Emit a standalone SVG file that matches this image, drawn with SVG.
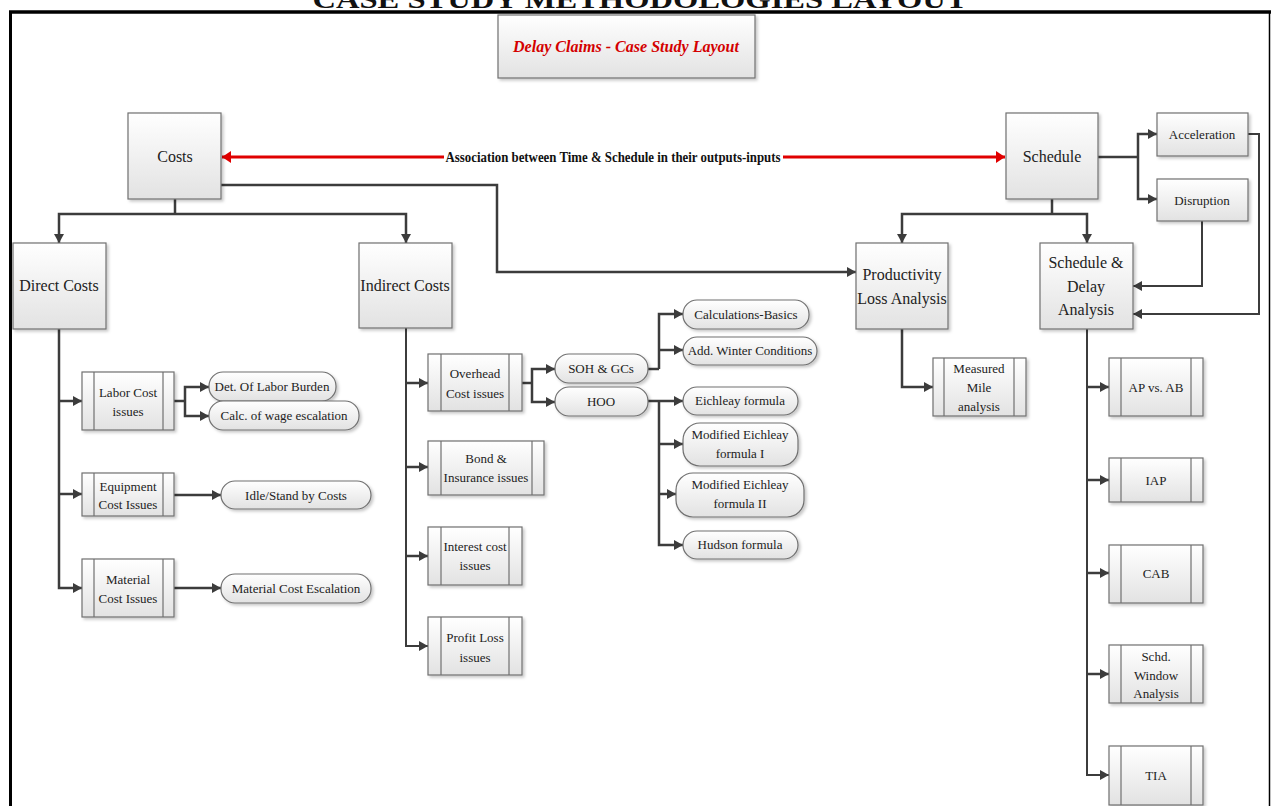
<svg xmlns="http://www.w3.org/2000/svg" width="1271" height="806" viewBox="0 0 1271 806">
<defs>
<linearGradient id="g" x1="0" y1="0" x2="0" y2="1"><stop offset="0" stop-color="#ffffff"/><stop offset="1" stop-color="#e2e2e2"/></linearGradient>
<filter id="sh" x="-10%" y="-10%" width="130%" height="130%"><feDropShadow dx="2" dy="2" stdDeviation="1.5" flood-color="#000" flood-opacity="0.22"/></filter>
<marker id="a" markerUnits="userSpaceOnUse" markerWidth="10" markerHeight="10" refX="9" refY="5" orient="auto"><path d="M0,0 L9,5 L0,10 z" fill="#3c3c3c"/></marker>
<marker id="r" markerUnits="userSpaceOnUse" markerWidth="10" markerHeight="12" refX="9" refY="6" orient="auto-start-reverse"><path d="M0,0 L9,6 L0,12 z" fill="#e00000"/></marker>
<style>
.box{fill:url(#g);stroke:#707070;stroke-width:1.2;filter:url(#sh)}
.in{stroke:#707070;stroke-width:1.2}
.t{font-family:'Liberation Serif',serif;fill:#222;text-anchor:middle}
.t16{font-size:16px}
.t13{font-size:13px}
.c{fill:none;stroke:#3c3c3c;stroke-width:2.5;marker-end:url(#a)}
.cl{fill:none;stroke:#3c3c3c;stroke-width:2.5}
.thin{stroke-width:2}
</style>
</defs>
<rect x="0" y="0" width="1271" height="806" fill="#ffffff"/>
<text x="640" y="8" font-family="Liberation Serif,serif" font-weight="bold" font-size="26" text-anchor="middle" textLength="655" lengthAdjust="spacingAndGlyphs" fill="#111">CASE STUDY METHODOLOGIES LAYOUT</text>
<g id="frame" fill="none" stroke="#000">
<line x1="9" y1="12" x2="1271" y2="12" stroke-width="3.5"/>
<line x1="10.5" y1="11" x2="10.5" y2="806" stroke-width="3"/>
<line x1="1269.5" y1="12" x2="1269.5" y2="806" stroke-width="1.5"/>
</g>

<g id="connectors">
<line x1="222" y1="157" x2="1005" y2="157" stroke="#e00000" stroke-width="3" marker-start="url(#r)" marker-end="url(#r)"/>
<rect x="444" y="148" width="339" height="18" fill="#ffffff"/>
<text x="613" y="161.5" font-family="Liberation Serif,serif" font-weight="bold" font-size="14" text-anchor="middle" textLength="335" lengthAdjust="spacingAndGlyphs" fill="#111">Association between Time &amp; Schedule in their outputs-inputs</text>

<path class="cl" d="M175,199 V214"/>
<path class="c" d="M175,214 H59 V243"/>
<path class="c" d="M175,214 H406 V243"/>
<path class="c" d="M221,185 H497 V272 H856"/>

<path class="cl" d="M1052,199 V214"/>
<path class="c" d="M1052,214 H902 V243"/>
<path class="c" d="M1052,214 H1087 V243"/>
<path class="cl" d="M1098,157 H1138"/>
<path class="c" d="M1138,157 V134 H1157"/>
<path class="c" d="M1138,157 V199 H1157"/>
<path class="c thin" d="M1248,134 H1259 V314 H1133"/>
<path class="c thin" d="M1202,221 V286 H1133"/>

<path class="c" d="M59,329 V588 H82"/>
<path class="c" d="M59,401 H82"/>
<path class="c" d="M59,494 H82"/>
<path class="cl" d="M174,401 H185"/>
<path class="c" d="M185,401 V387 H209"/>
<path class="c" d="M185,401 V416 H209"/>
<path class="c" d="M174,495 H221"/>
<path class="c" d="M174,588 H221"/>

<path class="c thin" d="M406,328 V646 H428"/>
<path class="c" d="M406,383 H428"/>
<path class="c" d="M406,467 H428"/>
<path class="c" d="M406,556 H428"/>
<path class="cl" d="M522,383 H532"/>
<path class="c" d="M532,383 V369 H555"/>
<path class="c" d="M532,383 V402 H555"/>
<path class="cl" d="M648,369 H659"/>
<path class="c" d="M659,369 V314 H683"/>
<path class="c" d="M659,350 H683"/>
<path class="c" d="M648,401 H683"/>
<path class="c" d="M659,401 V545 H683"/>
<path class="c" d="M659,444 H683"/>
<path class="c" d="M659,494 H676"/>

<path class="c" d="M902,329 V387 H933"/>
<path class="c thin" d="M1087,329 V775 H1109"/>
<path class="c" d="M1087,387 H1109"/>
<path class="c" d="M1087,480 H1109"/>
<path class="c" d="M1087,573 H1109"/>
<path class="c" d="M1087,674 H1109"/>
</g>

<g id="title-node"><rect class="box" x="498" y="15" width="257" height="63"/>
<text x="626" y="52" font-family="Liberation Serif,serif" font-weight="bold" font-style="italic" font-size="17" text-anchor="middle" textLength="226" lengthAdjust="spacingAndGlyphs" fill="#d40000">Delay Claims - Case Study Layout</text></g>

<g id="costs"><rect class="box" x="128" y="113" width="93" height="86"/><text class="t t16" x="175" y="162">Costs</text></g>
<g id="schedule"><rect class="box" x="1006" y="113" width="92" height="86"/><text class="t t16" x="1052" y="162">Schedule</text></g>
<g id="direct"><rect class="box" x="13" y="243" width="93" height="86"/><text class="t t16" x="59" y="291">Direct Costs</text></g>
<g id="indirect"><rect class="box" x="359" y="243" width="93" height="85"/><text class="t t16" x="405" y="291">Indirect Costs</text></g>
<g id="productivity"><rect class="box" x="856" y="243" width="92" height="86"/><text class="t t16" x="902" y="280">Productivity</text><text class="t t16" x="902" y="304">Loss Analysis</text></g>
<g id="sda"><rect class="box" x="1040" y="243" width="93" height="86"/><text class="t t16" x="1086" y="268">Schedule &amp;</text><text class="t t16" x="1086" y="292">Delay</text><text class="t t16" x="1086" y="315">Analysis</text></g>
<g id="acceleration"><rect class="box" x="1157" y="113" width="91" height="43"/><text class="t t13" x="1202" y="139">Acceleration</text></g>
<g id="disruption"><rect class="box" x="1157" y="179" width="91" height="42"/><text class="t t13" x="1202" y="205">Disruption</text></g>

<g id="labor"><rect class="box" x="82" y="372" width="92" height="58"/><line class="in" x1="94" y1="372" x2="94" y2="430"/><line class="in" x1="163" y1="372" x2="163" y2="430"/><text class="t t13" x="128" y="397">Labor Cost</text><text class="t t13" x="128" y="416">issues</text></g>
<g id="equipment"><rect class="box" x="82" y="473" width="92" height="43"/><line class="in" x1="94" y1="473" x2="94" y2="516"/><line class="in" x1="163" y1="473" x2="163" y2="516"/><text class="t t13" x="128" y="491">Equipment</text><text class="t t13" x="128" y="509">Cost Issues</text></g>
<g id="material"><rect class="box" x="82" y="559" width="92" height="58"/><line class="in" x1="94" y1="559" x2="94" y2="617"/><line class="in" x1="163" y1="559" x2="163" y2="617"/><text class="t t13" x="128" y="584">Material</text><text class="t t13" x="128" y="603">Cost Issues</text></g>

<g id="det"><rect class="box" x="209" y="372" width="127" height="29" rx="14"/><text class="t t13" x="272" y="391">Det. Of Labor Burden</text></g>
<g id="calc"><rect class="box" x="209" y="401" width="150" height="29" rx="14"/><text class="t t13" x="284" y="420">Calc. of wage escalation</text></g>
<g id="idle"><rect class="box" x="221" y="481" width="150" height="28" rx="14"/><text class="t t13" x="296" y="500">Idle/Stand by Costs</text></g>
<g id="matesc"><rect class="box" x="221" y="574" width="150" height="29" rx="14"/><text class="t t13" x="296" y="593">Material Cost Escalation</text></g>

<g id="overhead"><rect class="box" x="428" y="354" width="94" height="57"/><line class="in" x1="441" y1="354" x2="441" y2="411"/><line class="in" x1="509" y1="354" x2="509" y2="411"/><text class="t t13" x="475" y="378">Overhead</text><text class="t t13" x="475" y="398">Cost issues</text></g>
<g id="bond"><rect class="box" x="428" y="441" width="116" height="54"/><line class="in" x1="441" y1="441" x2="441" y2="495"/><line class="in" x1="532" y1="441" x2="532" y2="495"/><text class="t t13" x="486" y="463">Bond &amp;</text><text class="t t13" x="486" y="482">Insurance issues</text></g>
<g id="interest"><rect class="box" x="428" y="527" width="94" height="58"/><line class="in" x1="441" y1="527" x2="441" y2="585"/><line class="in" x1="509" y1="527" x2="509" y2="585"/><text class="t t13" x="475" y="551">Interest cost</text><text class="t t13" x="475" y="570">issues</text></g>
<g id="profit"><rect class="box" x="428" y="617" width="94" height="58"/><line class="in" x1="441" y1="617" x2="441" y2="675"/><line class="in" x1="509" y1="617" x2="509" y2="675"/><text class="t t13" x="475" y="642">Profit Loss</text><text class="t t13" x="475" y="662">issues</text></g>

<g id="soh"><rect class="box" x="555" y="354" width="93" height="29" rx="14"/><text class="t t13" x="601" y="373">SOH &amp; GCs</text></g>
<g id="hoo"><rect class="box" x="555" y="387" width="93" height="29" rx="14"/><text class="t t13" x="601" y="406">HOO</text></g>
<g id="calcb"><rect class="box" x="683" y="300" width="126" height="29" rx="14"/><text class="t t13" x="746" y="319">Calculations-Basics</text></g>
<g id="winter"><rect class="box" x="683" y="337" width="134" height="28" rx="14"/><text class="t t13" x="750" y="355">Add. Winter Conditions</text></g>
<g id="eich"><rect class="box" x="683" y="387" width="115" height="28" rx="14"/><text class="t t13" x="740" y="405">Eichleay formula</text></g>
<g id="mod1"><rect class="box" x="683" y="423" width="115" height="43" rx="17"/><text class="t t13" x="740" y="439">Modified Eichleay</text><text class="t t13" x="740" y="458">formula I</text></g>
<g id="mod2"><rect class="box" x="676" y="473" width="128" height="44" rx="17"/><text class="t t13" x="740" y="489">Modified Eichleay</text><text class="t t13" x="740" y="508">formula II</text></g>
<g id="hudson"><rect class="box" x="683" y="531" width="115" height="28" rx="14"/><text class="t t13" x="740" y="549">Hudson formula</text></g>

<g id="measured"><rect class="box" x="933" y="358" width="93" height="58"/><line class="in" x1="944" y1="358" x2="944" y2="416"/><line class="in" x1="1014" y1="358" x2="1014" y2="416"/><text class="t t13" x="979" y="373">Measured</text><text class="t t13" x="979" y="392">Mile</text><text class="t t13" x="979" y="411">analysis</text></g>
<g id="apab"><rect class="box" x="1109" y="358" width="94" height="58"/><line class="in" x1="1121" y1="358" x2="1121" y2="416"/><line class="in" x1="1191" y1="358" x2="1191" y2="416"/><text class="t t13" x="1156" y="392">AP vs. AB</text></g>
<g id="iap"><rect class="box" x="1109" y="458" width="94" height="44"/><line class="in" x1="1121" y1="458" x2="1121" y2="502"/><line class="in" x1="1191" y1="458" x2="1191" y2="502"/><text class="t t13" x="1156" y="485">IAP</text></g>
<g id="cab"><rect class="box" x="1109" y="545" width="94" height="58"/><line class="in" x1="1121" y1="545" x2="1121" y2="603"/><line class="in" x1="1191" y1="545" x2="1191" y2="603"/><text class="t t13" x="1156" y="578">CAB</text></g>
<g id="schd"><rect class="box" x="1109" y="645" width="94" height="58"/><line class="in" x1="1121" y1="645" x2="1121" y2="703"/><line class="in" x1="1191" y1="645" x2="1191" y2="703"/><text class="t t13" x="1156" y="661">Schd.</text><text class="t t13" x="1156" y="680">Window</text><text class="t t13" x="1156" y="698">Analysis</text></g>
<g id="tia"><rect class="box" x="1109" y="746" width="94" height="59"/><line class="in" x1="1121" y1="746" x2="1121" y2="805"/><line class="in" x1="1191" y1="746" x2="1191" y2="805"/><text class="t t13" x="1156" y="780">TIA</text></g>
</svg>
